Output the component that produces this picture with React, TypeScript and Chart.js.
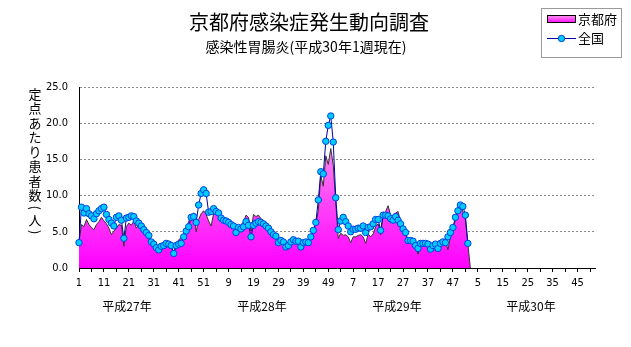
import React, { useEffect, useRef } from 'react';
import { Chart, registerables } from 'chart.js';
Chart.register(...registerables);

const TITLE = '京都府感染症発生動向調査';
const SUBTITLE = '感染性胃腸炎(平成30年1週現在)';
const Y_TITLE = '定点あたり患者数(人)';
const SERIES_NAMES = ['京都府', '全国'];
const YEAR_LABELS = ['平成27年', '平成28年', '平成29年', '平成30年'];
const WEEKS_IN_YEAR = 52;
const Y_MIN = 0;
const Y_MAX = 25;
const Y_STEP = 5;

// 京都府 (定点あたり)
const kyoto2015 = [3.6, 6.0, 5.7, 6.7, 6.0, 5.6, 5.3, 6.0, 6.4, 7.0, 6.5, 6.1, 5.5, 4.6, 5.1, 5.5, 6.0, 5.9, 3.0, 5.7, 6.2, 5.9, 6.5, 5.5, 6.0, 5.1, 4.8, 4.4, 3.9, 3.5, 3.0, 2.5, 2.8, 3.0, 2.9, 3.2, 3.0, 2.9, 2.1, 3.2, 3.9, 4.2, 4.8, 5.5, 6.4, 7.3, 7.6, 5.0, 6.7, 7.5, 7.9, 7.4];
const kyoto2016 = [6.5, 5.8, 7.5, 7.8, 7.4, 7.0, 6.7, 6.5, 6.3, 6.2, 5.9, 5.6, 5.6, 5.9, 6.4, 7.3, 7.0, 5.1, 7.4, 7.1, 7.3, 6.8, 6.5, 6.1, 5.5, 5.2, 4.8, 4.5, 3.9, 3.8, 3.5, 3.1, 2.5, 3.5, 3.8, 3.6, 3.5, 3.2, 3.5, 3.6, 3.8, 4.1, 5.1, 6.0, 8.0, 12.8, 11.3, 15.5, 14.3, 16.5, 14.2, 9.0];
const kyoto2017 = [4.1, 4.8, 4.5, 4.6, 4.3, 3.5, 4.3, 4.3, 4.5, 4.6, 4.3, 3.4, 4.7, 4.3, 4.7, 5.7, 6.1, 4.6, 7.3, 7.8, 8.6, 7.3, 7.0, 7.6, 7.8, 6.4, 5.3, 4.6, 3.6, 3.5, 3.4, 3.0, 1.9, 3.1, 3.2, 3.5, 3.2, 2.9, 3.2, 3.5, 2.9, 3.6, 3.9, 4.0, 2.5, 4.3, 5.5, 6.6, 7.8, 8.5, 7.8, 6.6];
const kyoto2018 = [3.3, 0];

// 全国 (定点あたり)
const national2015 = [3.5, 8.4, 7.6, 8.2, 7.5, 7.2, 6.8, 7.5, 7.9, 8.2, 8.4, 7.4, 6.7, 6.2, 5.8, 7.0, 7.2, 6.6, 4.1, 6.9, 7.0, 7.2, 7.1, 6.5, 6.2, 5.8, 5.3, 4.9, 4.5, 3.6, 3.3, 2.8, 2.5, 3.0, 3.1, 3.4, 3.3, 3.1, 2.0, 3.1, 3.3, 3.4, 4.3, 5.1, 5.7, 7.0, 7.1, 6.3, 8.7, 10.3, 10.8, 10.3];
const national2016 = [7.7, 7.8, 8.2, 7.8, 7.6, 6.9, 6.6, 6.5, 6.3, 6.0, 5.8, 4.9, 5.6, 5.4, 5.7, 6.4, 5.9, 4.3, 5.9, 6.2, 6.4, 6.3, 6.1, 5.8, 5.5, 5.0, 4.6, 4.4, 3.5, 3.8, 3.6, 2.9, 3.1, 3.6, 3.9, 3.7, 3.7, 2.9, 3.5, 3.6, 3.5, 4.3, 5.2, 6.3, 9.4, 13.3, 13.0, 17.5, 19.7, 21.0, 17.4, 9.7];
const national2017 = [5.3, 6.5, 7.0, 6.4, 5.8, 5.0, 5.35, 5.35, 5.5, 5.5, 5.8, 4.9, 5.6, 5.7, 6.1, 6.7, 6.7, 5.2, 7.3, 7.3, 7.2, 6.8, 6.6, 7.1, 6.6, 6.1, 5.4, 4.9, 3.8, 3.8, 3.7, 3.1, 2.7, 3.4, 3.4, 3.4, 3.3, 2.6, 3.1, 3.3, 2.7, 3.4, 3.6, 3.5, 4.3, 4.9, 5.6, 7.0, 7.9, 8.7, 8.5, 7.3];
const national2018 = [3.4];

const categories: string[] = [];
YEAR_LABELS.forEach(() => {
  for (let w = 1; w <= WEEKS_IN_YEAR; w++) categories.push(String(w));
});

const kyotoAll = [...kyoto2015, ...kyoto2016, ...kyoto2017, ...kyoto2018];
const nationalAll = [...national2015, ...national2016, ...national2017, ...national2018];
const padTo = (arr: number[]) => categories.map((_, i) => (i < arr.length ? arr[i] : null));

const JP = '"Noto Sans CJK JP", "Noto Sans CJK SC", sans-serif';
const NUM = '"Liberation Sans Narrow", "DejaVu Sans Condensed", "Liberation Sans", sans-serif';

const YEAR_X = [127, 262, 397, 531];

const decorPlugin = {
  id: 'decor',
  afterDraw(chart: any) {
    const ctx = chart.ctx as CanvasRenderingContext2D;
    ctx.save();
    ctx.fillStyle = '#000';
    ctx.textAlign = 'center';
    ctx.textBaseline = 'middle';
    ctx.font = `20px ${JP}`;
    ctx.fillText(TITLE, 309, 22);
    ctx.font = `14px ${JP}`;
    ctx.fillText(SUBTITLE, 306, 47);

    ctx.font = `12px ${JP}`;
    YEAR_LABELS.forEach((t, k) => ctx.fillText(t, YEAR_X[k], 306));

    // vertical y title
    ctx.font = `13px ${JP}`;
    let y = 94;
    const chars = Array.from(Y_TITLE);
    chars.forEach((ch, k) => {
      const paren = ch === '(' || ch === ')';
      if (k > 0) {
        const prevParen = chars[k - 1] === '(' || chars[k - 1] === ')';
        y += (prevParen ? 5 : 7.25) + (paren ? 5 : 7.25);
      }
      if (paren) {
        ctx.save();
        ctx.translate(35, y);
        ctx.rotate(Math.PI / 2);
        ctx.fillText(ch, 0, 0);
        ctx.restore();
      } else {
        ctx.fillText(ch, 35, y);
      }
    });

    // legend
    ctx.strokeStyle = '#9a9a9a';
    ctx.lineWidth = 1;
    ctx.strokeRect(541.5, 8.5, 80, 49);
    const g = ctx.createLinearGradient(0, 15, 0, 23);
    g.addColorStop(0, '#ffa0e8');
    g.addColorStop(1, '#ff00ff');
    ctx.fillStyle = g;
    ctx.fillRect(547, 15, 29, 8);
    ctx.strokeStyle = '#000';
    ctx.strokeRect(547.5, 15.5, 28, 7);
    ctx.fillStyle = '#000';
    ctx.textAlign = 'left';
    ctx.font = `13px ${JP}`;
    ctx.fillText(SERIES_NAMES[0], 578, 19);
    ctx.strokeStyle = '#0000aa';
    ctx.beginPath();
    ctx.moveTo(547, 38.5);
    ctx.lineTo(576, 38.5);
    ctx.stroke();
    ctx.beginPath();
    ctx.arc(561.5, 38.5, 3.2, 0, Math.PI * 2);
    ctx.fillStyle = '#00ccff';
    ctx.fill();
    ctx.strokeStyle = '#0040e0';
    ctx.stroke();
    ctx.fillStyle = '#000';
    ctx.fillText(SERIES_NAMES[1], 578, 38);
    ctx.restore();
  },
};

export default function App() {
  const ref = useRef<HTMLCanvasElement | null>(null);
  useEffect(() => {
    document.body.style.margin = '0';
    const canvas = ref.current!;
    const chart = new Chart(canvas, {
      type: 'line',
      data: {
        labels: categories,
        datasets: [
          {
            label: SERIES_NAMES[1],
            data: padTo(nationalAll),
            borderColor: '#0000aa',
            borderWidth: 1,
            pointRadius: 3.2,
            pointBackgroundColor: '#00ccff',
            pointBorderColor: '#0040e0',
            pointBorderWidth: 1,
            fill: false,
            tension: 0,
            spanGaps: false,
          },
          {
            label: SERIES_NAMES[0],
            data: padTo(kyotoAll),
            borderColor: '#333333',
            borderWidth: 1,
            pointRadius: 0,
            fill: 'origin',
            tension: 0,
            spanGaps: false,
            backgroundColor: (c: any) => {
              const area = c.chart.chartArea;
              if (!area) return '#ff00ff';
              const gr = c.chart.ctx.createLinearGradient(0, area.top, 0, area.bottom);
              gr.addColorStop(0, '#ffc4ea');
              gr.addColorStop(1, '#ff00ff');
              return gr;
            },
          },
        ],
      },
      options: {
        responsive: false,
        animation: false,
        devicePixelRatio: 1,
        layout: { padding: { top: 87, right: 36, bottom: 0, left: 0 } },
        plugins: { legend: { display: false }, tooltip: { enabled: false }, title: { display: false } },
        scales: {
          x: {
            type: 'category',
            offset: false,
            afterFit: (s: any) => { s.height = 79; },
            grid: {
              display: true,
              drawOnChartArea: false,
              drawTicks: true,
              tickLength: 4,
              color: (c: any) => (c.index % 5 === 0 ? '#000' : 'rgba(0,0,0,0)'),
              tickColor: (c: any) => (c.index % 5 === 0 ? '#000' : 'rgba(0,0,0,0)'),
            },
            border: { display: true, color: '#000', width: 1 },
            ticks: {
              autoSkip: false,
              maxRotation: 0,
              minRotation: 0,
              padding: 5,
              color: '#000',
              font: { family: NUM, size: 11 },
              callback: (_v: any, i: number) => (i % 10 === 0 ? categories[i] : ''),
            },
          },
          y: {
            min: Y_MIN,
            max: Y_MAX,
            afterFit: (s: any) => { s.width = 79; },
            grid: {
              drawTicks: false,
              color: (c: any) => (c.tick && c.tick.value === 0 ? 'rgba(0,0,0,0)' : '#8c8c8c'),
            },
            border: { display: true, color: '#000', width: 1, dash: [2, 2] },
            ticks: {
              stepSize: Y_STEP,
              padding: 11,
              color: '#000',
              font: { family: NUM, size: 11 },
              callback: (v: any) => Number(v).toFixed(1),
            },
          },
        },
      },
      plugins: [decorPlugin],
    });
    return () => chart.destroy();
  }, []);
  return (
    <div style={{ width: 631, height: 347, background: '#fff' }}>
      <canvas ref={ref} width={631} height={347} style={{ display: 'block', width: 631, height: 347 }} />
    </div>
  );
}
